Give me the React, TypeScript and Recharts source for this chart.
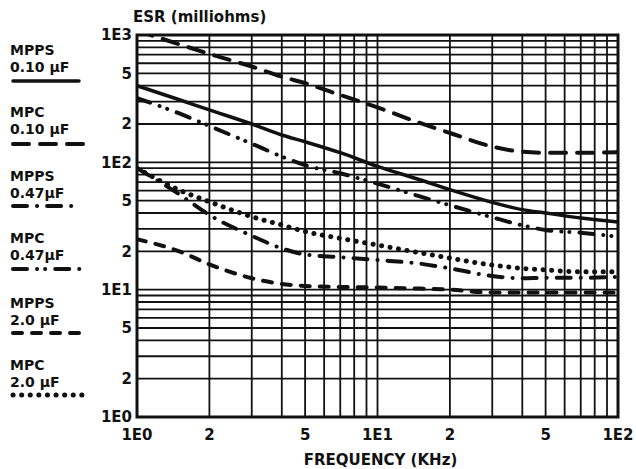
import {
  LineChart, Line, XAxis, YAxis, CartesianGrid, ReferenceArea,
} from 'recharts';

const freq = [1, 1.5, 2, 3, 4, 5, 7, 10, 15, 20, 30, 40, 50, 70, 100];

const mpps010 = [400, 310, 258, 200, 164, 145, 119, 93, 73, 61, 48.5, 42.5, 40, 36.6, 34];
const mpc010 = [1080, 845, 710, 565, 471, 418, 338, 270, 204, 170, 133, 121, 119, 119, 120];
const mpps047 = [90, 56, 38.6, 26.5, 21.1, 18.9, 18, 17.1, 16, 14.7, 12.8, 12.3, 12.4, 12.4, 12.6];
const mpc047 = [320, 242, 193, 140, 111, 95, 82, 68, 54, 46, 37, 32, 29.4, 28, 26];
const mpps20 = [24.9, 20, 15.8, 12.3, 11.1, 10.7, 10.5, 10.4, 10.2, 10, 9.5, 9.5, 9.5, 9.5, 9.5];
const mpc20 = [90, 60.5, 49, 37.4, 32.2, 28.6, 25.3, 22.4, 19.5, 17.7, 15.6, 14.7, 14.3, 13.8, 13.8];

const xTicks = [1, 2, 3, 4, 5, 6, 7, 8, 9, 10, 20, 30, 40, 50, 60, 70, 80, 90, 100];
const yTicks = [
  1, 2, 3, 4, 5, 6, 7, 8, 9,
  10, 20, 30, 40, 50, 60, 70, 80, 90,
  100, 200, 300, 400, 500, 600, 700, 800, 900, 1000,
];
const tickLabels: Record<number, string> = {
  1: '1E0', 2: '2', 5: '5', 10: '1E1', 20: '2', 50: '5', 100: '1E2', 200: '2', 500: '5', 1000: '1E3',
};

const series = [
  { key: 'mpps010', name: 'MPPS', cap: '0.10 µF', values: mpps010, dash: undefined, width: 3.5 },
  { key: 'mpc010', name: 'MPC', cap: '0.10 µF', values: mpc010, dash: '16 11', width: 4 },
  { key: 'mpps047', name: 'MPPS', cap: '0.47µF', values: mpps047, dash: '14 10 0.1 10', width: 4 },
  { key: 'mpc047', name: 'MPC', cap: '0.47µF', values: mpc047, dash: '14 10 0.1 8 0.1 10', width: 4 },
  { key: 'mpps20', name: 'MPPS', cap: '2.0 µF', values: mpps20, dash: '9 10', width: 4 },
  { key: 'mpc20', name: 'MPC', cap: '2.0 µF', values: mpc20, dash: '0.1 8.5', width: 5 },
];

const data = freq.map((f, i) => {
  const row: Record<string, number> = { f };
  series.forEach((s) => { row[s.key] = s.values[i]; });
  return row;
});

const FONT = '"DejaVu Sans", sans-serif';
const INK = '#111';
const tickStyle = { fontFamily: FONT, fontSize: 15, fontWeight: 'bold', fill: INK };

// left-hand legend rows: name, capacitance, sample line
const legendRows = [
  { nameY: 55, capY: 72, lineY: 81, x2: 79 },
  { nameY: 117, capY: 134, lineY: 144, x2: 83 },
  { nameY: 181, capY: 198, lineY: 206, x2: 79 },
  { nameY: 243, capY: 260, lineY: 269, x2: 87 },
  { nameY: 308, capY: 325, lineY: 333, x2: 79 },
  { nameY: 370, capY: 387, lineY: 395, x2: 83 },
];

function Overlay() {
  return (
    <svg width={636} height={469} style={{ position: 'absolute', left: 0, top: 0, pointerEvents: 'none' }}>
      <text x={133} y={22} fontFamily={FONT} fontSize={15} fontWeight="bold" fill={INK}>
        ESR (milliohms)
      </text>
      {series.map((s, i) => {
        const r = legendRows[i];
        return (
          <g key={s.key} fontFamily={FONT} fontSize={14} fontWeight="bold" fill={INK}>
            <text x={10} y={r.nameY}>{s.name}</text>
            <text x={10} y={r.capY}>{s.cap}</text>
            <line x1={13} x2={r.x2} y1={r.lineY} y2={r.lineY} stroke={INK}
              strokeWidth={s.width} strokeDasharray={s.dash} strokeLinecap="round" />
          </g>
        );
      })}
    </svg>
  );
}

export default function App() {
  return (
    <div style={{ position: 'absolute', left: 0, top: 0, width: 636, height: 469, background: '#fff' }}>
      <LineChart width={636} height={469} data={data}
        margin={{ top: 35, right: 18, left: 97, bottom: 22 }}>
        <CartesianGrid stroke={INK} strokeWidth={1.8} />
        <XAxis dataKey="f" type="number" scale="log" domain={[1, 100]} ticks={xTicks}
          allowDataOverflow interval={0} height={30} tickLine={false} axisLine={false}
          tickSize={0} tickMargin={12} tick={tickStyle}
          tickFormatter={(v: number) => tickLabels[v] ?? ''}
          label={{ value: 'FREQUENCY (KHz)', position: 'insideBottom', offset: -18, dx: 3,
            style: { fontFamily: FONT, fontSize: 15, fontWeight: 'bold', fill: INK } }} />
        <YAxis type="number" scale="log" domain={[1, 1000]} ticks={yTicks}
          allowDataOverflow interval={0} width={40} tickLine={false} axisLine={false}
          tickSize={0} tickMargin={5} tick={tickStyle}
          tickFormatter={(v: number) => tickLabels[v] ?? ''} />
        <ReferenceArea x1={1} x2={100} y1={1} y2={1000} fill="none" fillOpacity={0}
          stroke={INK} strokeWidth={3} ifOverflow="visible" />
        {series.map((s) => (
          <Line key={s.key} dataKey={s.key} type="monotone" stroke={INK} strokeWidth={s.width}
            strokeDasharray={s.dash} strokeLinecap="round" dot={false} isAnimationActive={false} />
        ))}
      </LineChart>
      <Overlay />
    </div>
  );
}
